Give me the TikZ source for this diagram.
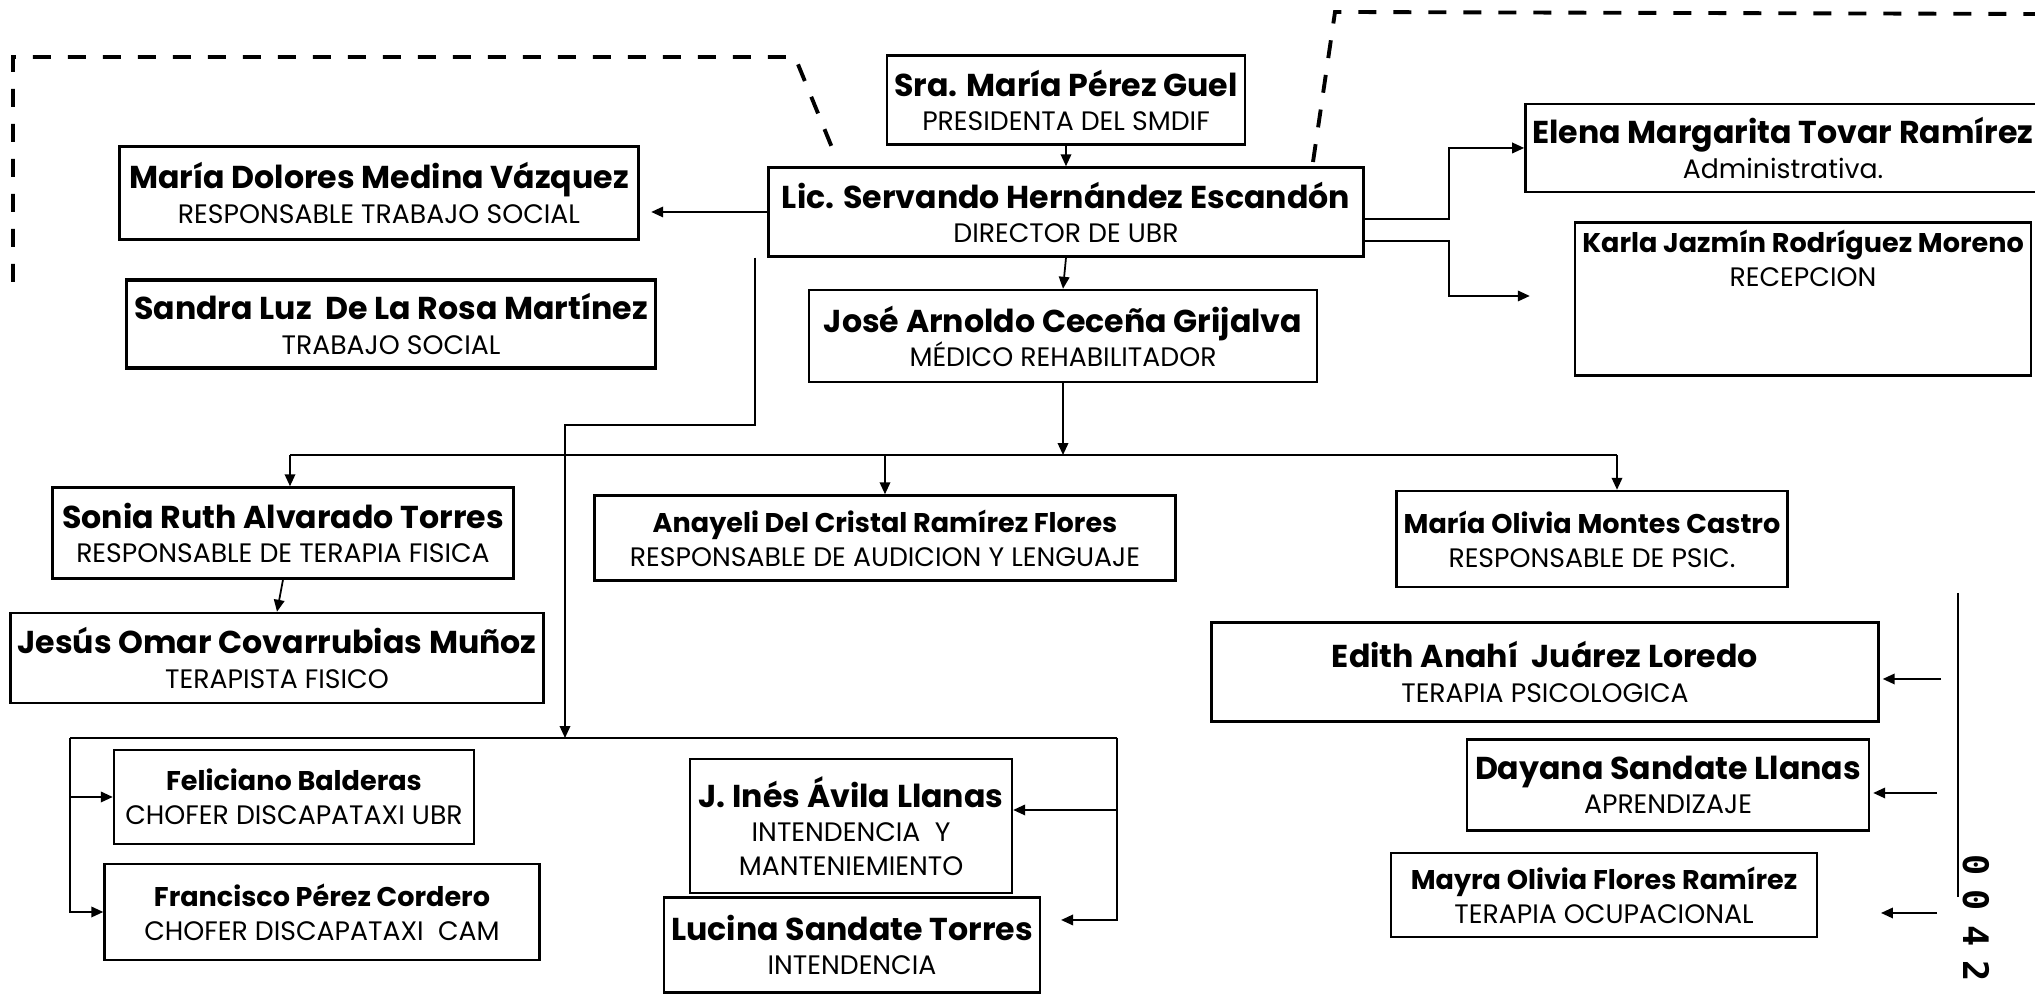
\documentclass[tikz,border=0pt]{standalone}
\usepackage{fontspec}
\setmainfont{Poppins}
\newfontfamily\sellofont[LetterSpace=40]{DejaVu Sans Mono}
\usetikzlibrary{arrows.meta,positioning,calc}
\newcommand{\nombre}[1]{{\bfseries #1}}
\newcommand{\puesto}[1]{{\fontsize{7.6}{9.7}\selectfont #1}}

\begin{document}
\begin{tikzpicture}[
  caja/.style={draw,line width=0.7pt,align=center,inner sep=2pt,
    font=\fontsize{9}{9.7}\selectfont},
  chica/.style={font=\fontsize{7.7}{9.7}\selectfont},
  linea/.style={line width=0.5pt},
  flecha/.style={linea,-{Triangle[length=3.4pt,width=3pt]}},
  guiones/.style={line width=1.1pt,dash pattern=on 0.18cm off 0.17cm}
]
  \fill[white] (0,0) rectangle (20.35,10);
  \useasboundingbox (0,0) rectangle (20.35,10);
  % presidencia y dirección
  \node[caja,minimum width=3.55cm,minimum height=0.89cm] (pres) at (10.66,9.00)
    {\nombre{Sra. María Pérez Guel}\\\puesto{PRESIDENTA DEL SMDIF}};
  \node[caja,minimum width=5.95cm,minimum height=0.89cm] (dir) at (10.66,7.88)
    {\nombre{Lic. Servando Hernández Escandón}\\\puesto{DIRECTOR DE UBR}};
  \node[caja,line width=1pt,minimum width=5.19cm,minimum height=0.93cm] (trabsoc) at (3.79,8.07)
    {\nombre{María Dolores Medina Vázquez}\\\puesto{RESPONSABLE TRABAJO SOCIAL}};
  \node[caja,line width=1pt,minimum width=5.29cm,minimum height=0.88cm] (sandra) at (3.91,6.76)
    {\nombre{Sandra Luz\ \ De La Rosa Martínez}\\\puesto{TRABAJO SOCIAL}};
  \node[caja,minimum width=5.08cm,minimum height=0.92cm] (medico) at (10.63,6.64)
    {\nombre{José Arnoldo Ceceña Grijalva}\\\puesto{MÉDICO REHABILITADOR}};
  \node[caja,minimum width=4.97cm,minimum height=0.88cm] (admin) at (17.83,8.52)
    {\nombre{Elena Margarita Tovar Ramírez}\\\puesto{Administrativa.}};
  \node[caja,chica,minimum width=4.56cm,minimum height=1.31cm,text depth=0.82cm] (recep) at (18.03,7.01)
    {\nombre{Karla Jazmín Rodríguez Moreno}\\\puesto{RECEPCION}};
  % área médica
  \node[caja,minimum width=4.61cm,minimum height=0.91cm] (sonia) at (2.83,4.67)
    {\nombre{Sonia Ruth Alvarado Torres}\\\puesto{RESPONSABLE DE TERAPIA FISICA}};
  \node[caja,minimum width=5.28cm,minimum height=0.90cm] (jesus) at (2.77,3.42)
    {\nombre{Jesús Omar Covarrubias Muñoz}\\\puesto{TERAPISTA FISICO}};
  \node[caja,chica,minimum width=5.81cm,minimum height=0.85cm] (anayeli) at (8.85,4.62)
    {\nombre{Anayeli Del Cristal Ramírez Flores}\\\puesto{RESPONSABLE DE AUDICION Y LENGUAJE}};
  \node[caja,chica,minimum width=3.86cm,minimum height=0.96cm] (olivia) at (15.92,4.61)
    {\nombre{María Olivia Montes Castro}\\\puesto{RESPONSABLE DE PSIC.}};
  \node[caja,minimum width=6.67cm,minimum height=0.99cm] (edith) at (15.45,3.28)
    {\nombre{Edith Anahí\ \ Juárez Loredo}\\\puesto{TERAPIA PSICOLOGICA}};
  \node[caja,minimum width=4.02cm,minimum height=0.91cm] (dayana) at (16.68,2.15)
    {\nombre{Dayana Sandate Llanas}\\\puesto{APRENDIZAJE}};
  \node[caja,chica,minimum width=4.26cm,minimum height=0.84cm] (mayra) at (16.04,1.05)
    {\nombre{Mayra Olivia Flores Ramírez}\\\puesto{TERAPIA OCUPACIONAL}};
  % servicios generales
  \node[caja,chica,minimum width=3.60cm,minimum height=0.94cm] (feliciano) at (2.94,2.03)
    {\nombre{Feliciano Balderas}\\\puesto{CHOFER DISCAPATAXI UBR}};
  \node[caja,chica,minimum width=4.35cm,minimum height=0.96cm] (francisco) at (3.22,0.88)
    {\nombre{Francisco Pérez Cordero}\\\puesto{CHOFER DISCAPATAXI\ \ CAM}};
  \node[caja,minimum width=3.22cm,minimum height=1.34cm] (ines) at (8.51,1.74)
    {\nombre{J. Inés Ávila Llanas}\\\puesto{INTENDENCIA\ \ Y}\\\puesto{MANTENIEMIENTO}};
  \node[caja,minimum width=3.73cm,minimum height=0.95cm] (lucina) at (8.52,0.55)
    {\nombre{Lucina Sandate Torres}\\\puesto{INTENDENCIA}};

  % líneas de mando de la dirección
  \draw[flecha] (pres.south) -- (dir.north);
  \draw[flecha,shorten >=0.11cm] (dir.west) -- (dir.west -| trabsoc.east);
  \draw[flecha] ([yshift=-0.07cm]dir.east) -- ++(0.84,0) |- (admin.west);
  \draw[flecha] ([yshift=-0.29cm]dir.east) -- ++(0.84,0) |- ([xshift=-0.44cm,yshift=0.03cm]recep.west);
  \draw[flecha] (dir.south) -- (medico.north);
  % rama de servicios generales
  \coordinate (busCentro) at (5.65,2.62);
  \coordinate (busIzq) at (0.70,2.62);
  \coordinate (busDer) at (11.17,2.62);
  \draw[flecha] ([xshift=-0.12cm]dir.south west) -- ++(0,-1.67) -| (busCentro);
  \draw[linea] (busIzq) -- (busDer);
  \draw[flecha] (busIzq) |- (feliciano.west);
  \draw[flecha] (busIzq) |- (francisco.west);
  \draw[flecha] (busDer) |- ([yshift=0.16cm]ines.east);
  \draw[flecha,shorten >=0.2cm] (busDer) |- ([yshift=0.25cm]lucina.east);
  % rama del médico rehabilitador
  \coordinate (busSupIzq) at (2.90,5.45);
  \coordinate (busSupDer) at (16.17,5.45);
  \draw[flecha] (medico.south) -- (medico.south |- busSupIzq);
  \draw[linea] (busSupIzq) -- (busSupDer);
  \draw[flecha] (busSupIzq) -- (busSupIzq |- sonia.north);
  \draw[flecha] (anayeli.north |- busSupIzq) -- (anayeli.north);
  \draw[flecha] (busSupDer) -- (busSupDer |- olivia.north);
  \draw[flecha] (sonia.south) -- (jesus.north);
  % terapias (lado derecho)
  \coordinate (lineaSup) at (19.58,4.07);
  \coordinate (lineaInf) at (19.58,1.03);
  \coordinate (colaEdith) at (19.41,3.21);
  \coordinate (colaDayana) at (19.37,2.07);
  \coordinate (colaMayra) at (19.37,0.87);
  \draw[linea] (lineaSup) -- (lineaInf);
  \draw[flecha,shorten >=0.03cm] (colaEdith) -- (colaEdith -| edith.east);
  \draw[flecha,shorten >=0.03cm] (colaDayana) -- (colaDayana -| dayana.east);
  \draw[flecha] (colaMayra) -- ++(-0.56,0);
  % líneas punteadas
  \draw[guiones] (0.13,7.18) -- (0.13,9.43) -- (7.95,9.43) -- (8.35,8.45);
  \draw[guiones] (13.13,8.38) -- (13.35,9.88) -- (20.35,9.86);
  % sello
  \node[rotate=-90,font=\sellofont\bfseries\fontsize{10}{10}\selectfont] (sello) at (19.76,0.82) {0042};
\end{tikzpicture}
\end{document}
